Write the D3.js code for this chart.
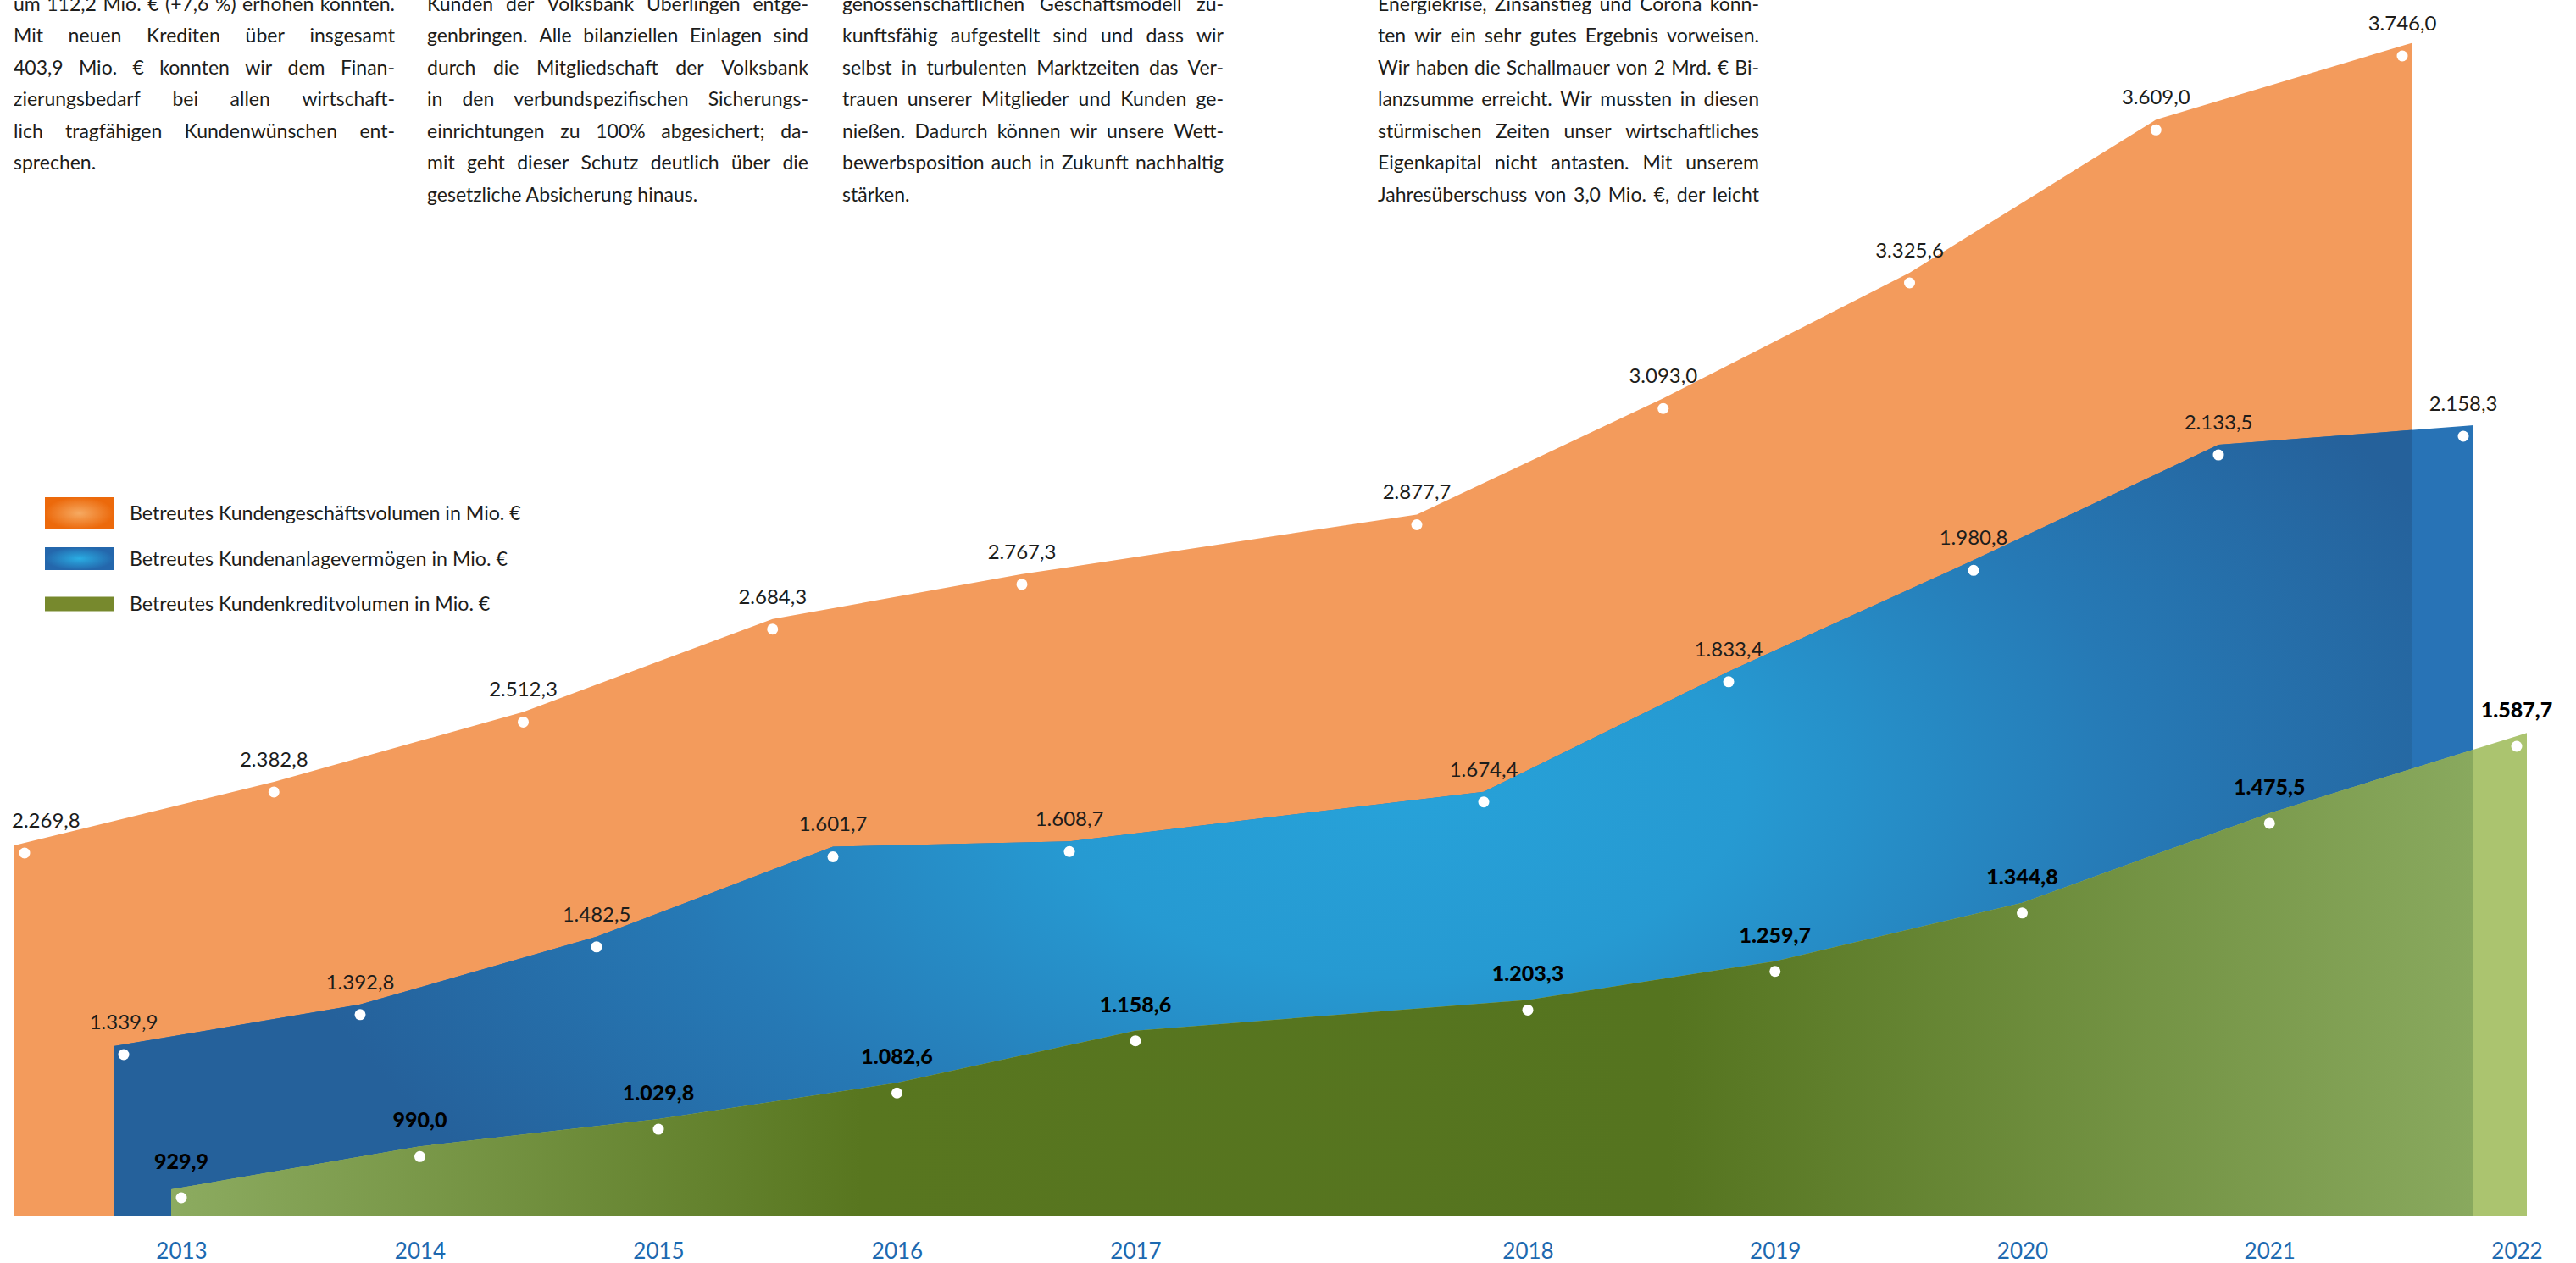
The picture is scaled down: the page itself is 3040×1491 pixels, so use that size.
<!DOCTYPE html>
<html>
<head>
<meta charset="utf-8">
<script src="https://cdn.jsdelivr.net/npm/d3@7"></script>
<style>
  body { margin: 0; background: #fff; }
  svg { display: block; }
</style>
</head>
<body>
<svg id="main" width="3040" height="1491"></svg>
<script>
// --- data -------------------------------------------------------------
const years = [2013, 2014, 2015, 2016, 2017, 2018, 2019, 2020, 2021, 2022];
const kundengeschaeft = [2269.8, 2382.8, 2512.3, 2684.3, 2767.3, 2877.7, 3093.0, 3325.6, 3609.0, 3746.0];
const kundenanlage = [1339.9, 1392.8, 1482.5, 1601.7, 1608.7, 1674.4, 1833.4, 1980.8, 2133.5, 2158.3];
const kundenkredit = [929.9, 990.0, 1029.8, 1082.6, 1158.6, 1203.3, 1259.7, 1344.8, 1475.5, 1587.7];

const legendLabels = [
  "Betreutes Kundengeschäftsvolumen in Mio. €",
  "Betreutes Kundenanlagevermögen in Mio. €",
  "Betreutes Kundenkreditvolumen in Mio. €"
];

const textCol1 = [
  "um 112,2 Mio. € (+7,6 %) erhöhen konnten.",
  "Mit neuen Krediten über insgesamt",
  "403,9 Mio. € konnten wir dem Finan-",
  "zierungsbedarf bei allen wirtschaft-",
  "lich tragfähigen Kundenwünschen ent-",
  "sprechen."
];
const textCol2 = [
  "Kunden der Volksbank Überlingen entge-",
  "genbringen. Alle bilanziellen Einlagen sind",
  "durch die Mitgliedschaft der Volksbank",
  "in den verbundspezifischen Sicherungs-",
  "einrichtungen zu 100% abgesichert; da-",
  "mit geht dieser Schutz deutlich über die",
  "gesetzliche Absicherung hinaus."
];
const textCol3 = [
  "genossenschaftlichen Geschäftsmodell zu-",
  "kunftsfähig aufgestellt sind und dass wir",
  "selbst in turbulenten Marktzeiten das Ver-",
  "trauen unserer Mitglieder und Kunden ge-",
  "nießen. Dadurch können wir unsere Wett-",
  "bewerbsposition auch in Zukunft nachhaltig",
  "stärken."
];
const textCol4 = [
  "Energiekrise, Zinsanstieg und Corona konn-",
  "ten wir ein sehr gutes Ergebnis vorweisen.",
  "Wir haben die Schallmauer von 2 Mrd. € Bi-",
  "lanzsumme erreicht. Wir mussten in diesen",
  "stürmischen Zeiten unser wirtschaftliches",
  "Eigenkapital nicht antasten. Mit unserem",
  "Jahresüberschuss von 3,0 Mio. €, der leicht"
];

// --- layout -----------------------------------------------------------
const FONT = "Lato, 'Open Sans', sans-serif";
const baseY = 1435;
const breakYears = [2013, 2017, 2018, 2022];

const svg = d3.select("#main");
const defs = svg.append("defs");
const fmt = d3.formatLocale({decimal: ",", thousands: ".", grouping: [3], currency: ["", ""]}).format(",.1f");

// text columns (justified by word spacing)
const columns = [
  {lines: textCol1, x: 16, lastIsEnd: true},
  {lines: textCol2, x: 504, lastIsEnd: true},
  {lines: textCol3, x: 994, lastIsEnd: true},
  {lines: textCol4, x: 1626, lastIsEnd: false}
];
const colW = 450, lineH = 37.5, firstBase = 12.5;

const txt = svg.append("g")
  .attr("font-family", FONT).attr("font-size", 23).attr("font-weight", 400)
  .attr("fill", "#1d1d1b");

columns.forEach(col => {
  col.lines.forEach((line, i) => {
    const y = firstBase + i * lineH;
    const justify = !(col.lastIsEnd && i == col.lines.length - 1);
    if (!justify) {
      txt.append("text").attr("x", col.x).attr("y", y).text(line);
      return;
    }
    const words = line.split(" ");
    const probe = txt.append("text").attr("x", -1000).attr("y", -1000);
    const widths = words.map(w => { probe.text(w); return probe.node().getComputedTextLength(); });
    probe.remove();
    const gap = (colW - d3.sum(widths)) / (words.length - 1);
    if (gap < 4) {
      txt.append("text").attr("x", col.x).attr("y", y)
        .attr("textLength", colW).attr("lengthAdjust", "spacingAndGlyphs").text(line);
      return;
    }
    let cx = col.x;
    words.forEach((w, k) => {
      txt.append("text").attr("x", cx).attr("y", y).text(w);
      cx += widths[k] + gap;
    });
  });
});

// gradients
const blueGrad = defs.append("radialGradient").attr("id", "blueGrad")
  .attr("gradientUnits", "userSpaceOnUse")
  .attr("cx", 1650).attr("cy", 930).attr("r", 1350)
  .attr("gradientTransform", "translate(1650,930) scale(1,0.55) translate(-1650,-930)");
[[0, "#27a2d9"], [0.3, "#269ad2"], [0.65, "#2679b5"], [1, "#25619b"]].forEach(s =>
  blueGrad.append("stop").attr("offset", s[0]).attr("stop-color", s[1]));

const greenGrad = defs.append("linearGradient").attr("id", "greenGrad")
  .attr("gradientUnits", "userSpaceOnUse")
  .attr("x1", 204).attr("x2", 2918).attr("y1", 0).attr("y2", 0);
[[0, "#8cab60"], [0.3, "#58761f"], [0.65, "#55741f"], [1, "#89a95e"]].forEach(s =>
  greenGrad.append("stop").attr("offset", s[0]).attr("stop-color", s[1]));

const swOrange = defs.append("radialGradient").attr("id", "swOrange");
[[0, "#f6aa62"], [1, "#ec690b"]].forEach(s => swOrange.append("stop").attr("offset", s[0]).attr("stop-color", s[1]));
const swBlue = defs.append("radialGradient").attr("id", "swBlue");
[[0, "#2aaee4"], [1, "#2467ac"]].forEach(s => swBlue.append("stop").attr("offset", s[0]).attr("stop-color", s[1]));

// series setup
const series = [
  {values: kundengeschaeft, xr: [29, 1206, 1672, 2835], yr: [1007, 66],
   outside: "#f39b5c", inside: "#f39b5c", clip: null, bold: false, swatch: "url(#swOrange)", swH: 38},
  {values: kundenanlage, xr: [146, 1262, 1751, 2907], yr: [1245, 515],
   outside: "#2873b6", inside: "url(#blueGrad)", clip: 0, bold: false, swatch: "url(#swBlue)", swH: 27},
  {values: kundenkredit, xr: [214, 1340, 1803, 2970], yr: [1414, 881],
   outside: "#abc46f", inside: "url(#greenGrad)", clip: 1, bold: true, swatch: "#77892d", swH: 17}
];

const area = d3.area().x(d => d.x).y0(baseY).y1(d => d.y);

series.forEach((s, i) => {
  s.x = d3.scaleLinear().domain(breakYears).range(s.xr);
  s.y = d3.scaleLinear().domain(d3.extent(s.values)).range(s.yr);
  s.pts = years.map((yr, k) => ({x: s.x(yr), y: s.y(s.values[k]), v: s.values[k]}));
  const top = s.pts.map(p => ({x: p.x, y: p.y - 12}));
  const ext = 12;
  const a = top[0], b = top[1], c = top[top.length - 2], d = top[top.length - 1];
  const left = {x: a.x - ext, y: a.y - (b.y - a.y) * ext / (b.x - a.x)};
  const right = {x: d.x + ext, y: d.y + (d.y - c.y) * ext / (d.x - c.x)};
  s.outline = [left, ...top, right];
  defs.append("clipPath").attr("id", "clip" + i)
    .append("path").attr("d", area(s.outline));
});

const areas = svg.append("g");
series.forEach(s => {
  areas.append("path").attr("d", area(s.outline)).attr("fill", s.outside);
  if (s.clip !== null) {
    areas.append("path").attr("d", area(s.outline)).attr("fill", s.inside)
      .attr("clip-path", "url(#clip" + s.clip + ")");
  }
});

// dots and value labels
const marks = svg.append("g");
series.forEach(s => {
  marks.selectAll(null).data(s.pts).join("circle")
    .attr("cx", d => d.x).attr("cy", d => d.y).attr("r", 6.5).attr("fill", "#fff");
  const lab = marks.selectAll(null).data(s.pts).join("text")
    .attr("x", d => d.x).attr("y", d => d.y - (s.bold ? 34 : 30))
    .attr("text-anchor", "middle")
    .attr("font-family", FONT).attr("font-size", s.bold ? 25 : 24)
    .attr("font-weight", s.bold ? 900 : 400)
    .attr("fill", s.bold ? "#000" : "#1d1d1b")
    .text(d => fmt(d.v));
  lab.each(function() {
    const bb = this.getBBox();
    if (bb.x < 14) d3.select(this).attr("x", +d3.select(this).attr("x") + (14 - bb.x));
  });
});

// year axis
const axis = d3.axisBottom(series[2].x).tickValues(years).tickFormat(d3.format("d")).tickSize(0).tickPadding(0);
svg.append("g").attr("transform", "translate(0,1486)").call(axis)
  .call(g => g.select(".domain").remove())
  .attr("font-family", FONT).attr("font-size", 26)
  .selectAll("text").attr("y", 0).attr("dy", 0).attr("fill", "#1d69b0").attr("font-weight", 400);

// legend
const legend = svg.append("g");
series.forEach((s, i) => {
  const cy = 606 + i * 53.5;
  legend.append("rect").attr("x", 53).attr("y", cy - s.swH / 2)
    .attr("width", 81).attr("height", s.swH).attr("fill", s.swatch);
  legend.append("text").attr("x", 153).attr("y", cy + 8)
    .attr("font-family", FONT).attr("font-size", 23.2).attr("font-weight", 400)
    .attr("fill", "#1d1d1b").text(legendLabels[i]);
});
</script>
</body>
</html>
